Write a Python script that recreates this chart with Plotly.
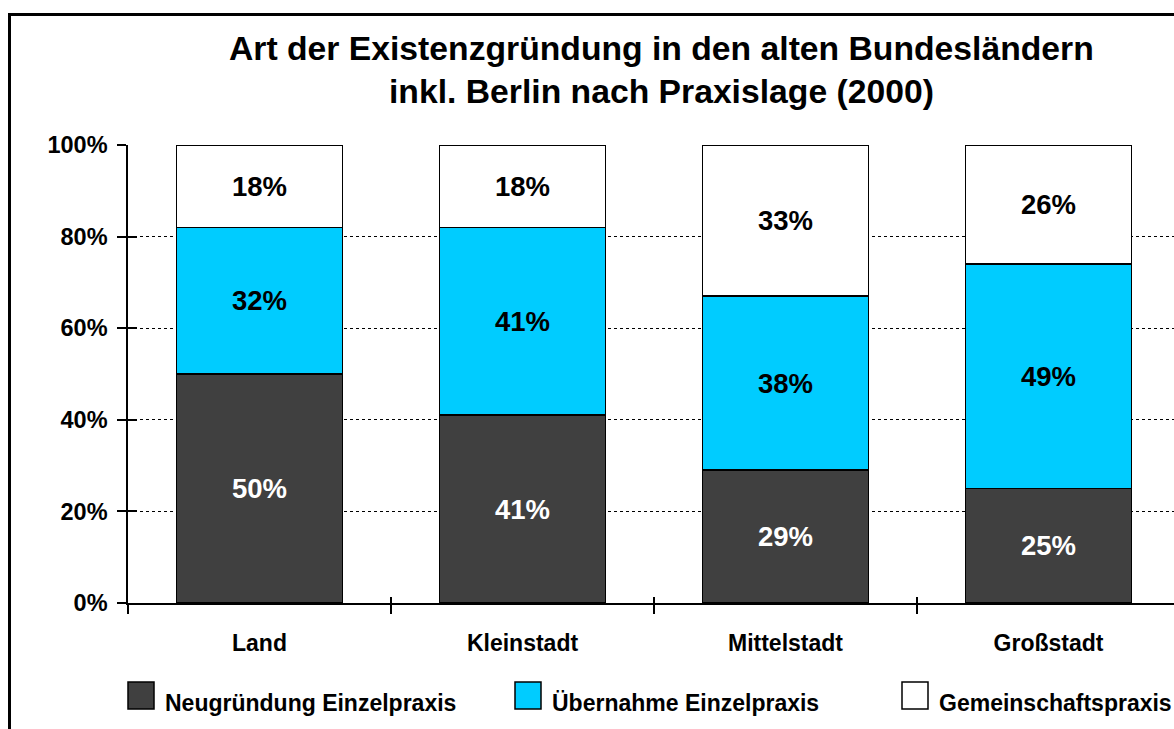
import plotly.graph_objects as go

categories = ["Land", "Kleinstadt", "Mittelstadt", "Großstadt"]
series_names = ["Neugründung Einzelpraxis", "Übernahme Einzelpraxis", "Gemeinschaftspraxis"]
neugruendung = [50, 41, 29, 25]
uebernahme = [32, 41, 38, 49]
gemeinschaft = [18, 18, 33, 26]
series_values = [neugruendung, uebernahme, gemeinschaft]
series_colors = ["#404040", "#00CCFF", "#FFFFFF"]
label_colors = ["#FFFFFF", "#000000", "#000000"]
y_tickvals = [0, 20, 40, 60, 80, 100]
y_ticktext = ["0%", "20%", "40%", "60%", "80%", "100%"]
title_lines = ["Art der Existenzgründung in den alten Bundesländern",
               "inkl. Berlin nach Praxislage (2000)"]

W, H = 1174, 729
PLOT_L, PLOT_T, PLOT_B = 128, 145, 603
L, T = PLOT_L, PLOT_T
B = H - PLOT_B
R = 0
PW, PH = W - L - R, H - T - B
CAT_PX = 263.0
FONT = "Arial, 'Liberation Sans', sans-serif"


def px_x(x):
    return (x - L) / PW


def px_y(y):
    return (H - B - y) / PH


fig = go.Figure()
for name, vals, col, lcol in zip(series_names, series_values, series_colors, label_colors):
    fig.add_trace(go.Bar(
        x=categories, y=vals, name=name,
        marker=dict(color=col, line=dict(color="black", width=1.5)),
        text=[f"{v}%" for v in vals],
        textposition="inside", insidetextanchor="middle", textangle=0,
        constraintext="none",
        textfont=dict(family=FONT, size=27.5, color=lcol, weight="bold"),
        showlegend=False, hoverinfo="skip",
    ))

# helper trace so the overlay axes (crossing tick marks) are drawn
fig.add_trace(go.Scatter(x=[], y=[], xaxis="x2", yaxis="y2", showlegend=False, hoverinfo="skip"))

x_range = [-0.5, -0.5 + PW / CAT_PX]

fig.update_layout(
    width=W, height=H,
    margin=dict(l=L, r=R, t=T, b=B, pad=0),
    paper_bgcolor="white", plot_bgcolor="white",
    barmode="stack", bargap=0.368,
    showlegend=False,
    font=dict(family=FONT, color="black"),
    xaxis=dict(
        type="category", range=x_range, tickson="boundaries",
        ticks="outside", ticklen=9, tickwidth=1.5, tickcolor="black",
        showline=True, linecolor="black", linewidth=1.5,
        showgrid=False, zeroline=False,
        tickfont=dict(family=FONT, size=23, color="black", weight="bold"),
        ticklabelstandoff=19,
    ),
    yaxis=dict(
        range=[0, 100], tickvals=y_tickvals, ticktext=y_ticktext,
        ticks="outside", ticklen=9, tickwidth=1.5, tickcolor="black",
        showline=True, linecolor="black", linewidth=1.5,
        showgrid=True, gridcolor="black", gridwidth=1, griddash="dot",
        zeroline=False,
        tickfont=dict(family=FONT, size=23.5, color="black", weight="bold"),
        ticklabelstandoff=5,
    ),
    xaxis2=dict(
        overlaying="x", anchor="y", range=x_range,
        tickvals=[-0.5 + i for i in range(len(categories) + 1)],
        ticks="inside", ticklen=6, tickwidth=1.5, tickcolor="black",
        showticklabels=False, showgrid=False, zeroline=False, showline=False,
    ),
    yaxis2=dict(
        overlaying="y", anchor="x", side="left", range=[0, 100],
        tickvals=y_tickvals,
        ticks="inside", ticklen=9, tickwidth=1.5, tickcolor="black",
        showticklabels=False, showgrid=False, zeroline=False, showline=False,
    ),
)

# title (two lines placed individually)
for line, ymid in zip(title_lines, [48.5, 90.5]):
    fig.add_annotation(
        xref="paper", yref="paper", x=px_x(661), y=px_y(ymid),
        xanchor="center", yanchor="middle", showarrow=False,
        text=line,
        font=dict(family=FONT, size=33.7, color="black", weight="bold"),
    )

# outer frame (left and top edges visible)
fig.add_shape(type="line", xref="paper", yref="paper",
              x0=px_x(9.5), x1=px_x(9.5), y0=px_y(13), y1=px_y(760),
              line=dict(color="black", width=3))
fig.add_shape(type="line", xref="paper", yref="paper",
              x0=px_x(8), x1=px_x(1200), y0=px_y(14.5), y1=px_y(14.5),
              line=dict(color="black", width=3))

# manual legend
for i, (name, col) in enumerate(zip(series_names, series_colors)):
    x0 = 128 + i * 387
    fig.add_shape(type="rect", xref="paper", yref="paper",
                  x0=px_x(x0), x1=px_x(x0 + 26), y0=px_y(682), y1=px_y(709),
                  fillcolor=col, line=dict(color="black", width=1.5))
    fig.add_annotation(
        xref="paper", yref="paper", x=px_x(x0 + 35), y=px_y(703),
        xanchor="left", yanchor="middle", showarrow=False, text=name,
        font=dict(family=FONT, size=23, color="black", weight="bold"),
    )

fig.write_html(
    "out.html",
    config={"displayModeBar": False},
    post_script="document.body.style.margin='0';document.body.style.overflow='hidden';",
)
